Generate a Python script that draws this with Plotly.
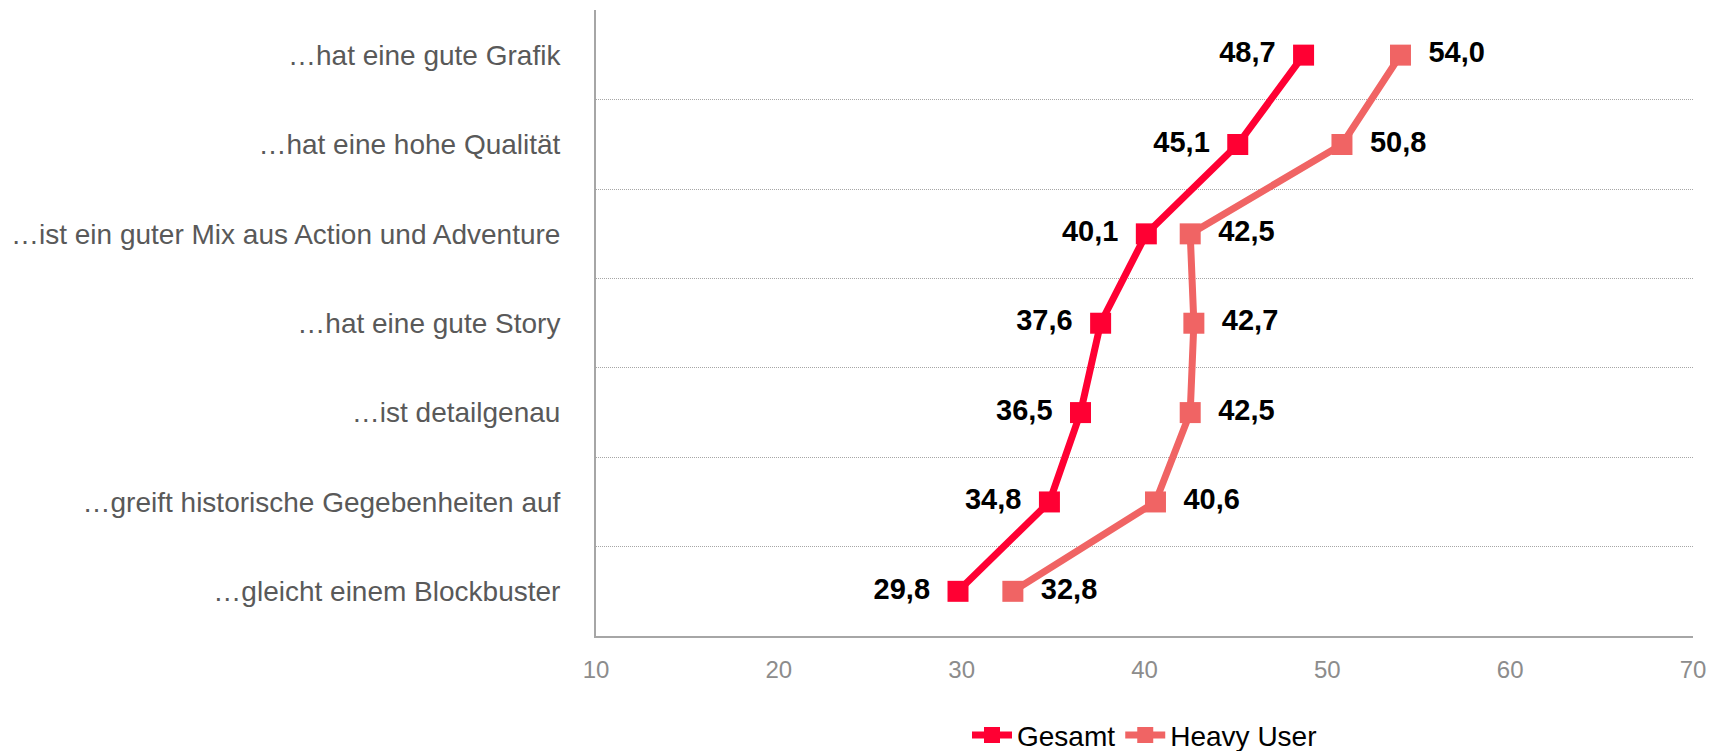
import plotly.graph_objects as go

# Statements (top to bottom) and mean agreement values
categories = [
    "…hat eine gute Grafik",
    "…hat eine hohe Qualität",
    "…ist ein guter Mix aus Action und Adventure",
    "…hat eine gute Story",
    "…ist detailgenau",
    "…greift historische Gegebenheiten auf",
    "…gleicht einem Blockbuster",
]
gesamt = [48.7, 45.1, 40.1, 37.6, 36.5, 34.8, 29.8]
heavy_user = [54.0, 50.8, 42.5, 42.7, 42.5, 40.6, 32.8]
x_ticks = [10, 20, 30, 40, 50, 60, 70]

FONT = "Arial, Liberation Sans, sans-serif"
C_GESAMT = "#FF0033"
C_HEAVY = "#F06464"
PAD = "\u00a0\u2009"  # small gap between marker and value label

pos = list(range(len(categories)))


def fmt(v):
    return f"{v:.1f}".replace(".", ",")


fig = go.Figure()
fig.add_trace(go.Scatter(
    x=gesamt, y=pos, name="Gesamt", mode="lines+markers+text",
    line=dict(color=C_GESAMT, width=7),
    marker=dict(symbol="square", size=21, color=C_GESAMT),
    text=[fmt(v) + PAD for v in gesamt], textposition="middle left",
    textfont=dict(family=FONT, size=29, color="black", weight="bold"),
    cliponaxis=False,
))
fig.add_trace(go.Scatter(
    x=heavy_user, y=pos, name="Heavy User", mode="lines+markers+text",
    line=dict(color=C_HEAVY, width=7),
    marker=dict(symbol="square", size=21, color=C_HEAVY),
    text=[PAD + fmt(v) for v in heavy_user], textposition="middle right",
    textfont=dict(family=FONT, size=29, color="black", weight="bold"),
    cliponaxis=False,
))

fig.update_layout(
    width=1721, height=751,
    margin=dict(l=596, r=28, t=10, b=115, autoexpand=False),
    paper_bgcolor="white", plot_bgcolor="white",
    font=dict(family=FONT),
    showlegend=True,
    legend=dict(
        orientation="h", x=0.5, xanchor="center",
        yref="container", y=0.021, yanchor="middle",
        font=dict(family=FONT, size=28, color="black"),
        traceorder="normal", itemwidth=40,
    ),
    xaxis=dict(
        range=[10, 70], tickvals=x_ticks, showgrid=False, zeroline=False,
        showline=True, linecolor="#A6A6A6", linewidth=2,
        tickfont=dict(family=FONT, size=24, color="#8C8C8C"),
        ticks="", ticklabelstandoff=11,
    ),
    yaxis=dict(
        range=[len(categories) - 0.5, -0.505],
        tickvals=pos, ticktext=categories,
        showgrid=False, zeroline=False,
        showline=True, linecolor="#A6A6A6", linewidth=2,
        tickfont=dict(family=FONT, size=28, color="#595959"),
        ticks="", ticklabelstandoff=28,
        minor=dict(
            tickvals=[i - 0.5 for i in pos],
            showgrid=True, gridcolor="#A6A6A6", griddash="1px,1px", gridwidth=1,
        ),
    ),
)

fig.write_html("out.html")
